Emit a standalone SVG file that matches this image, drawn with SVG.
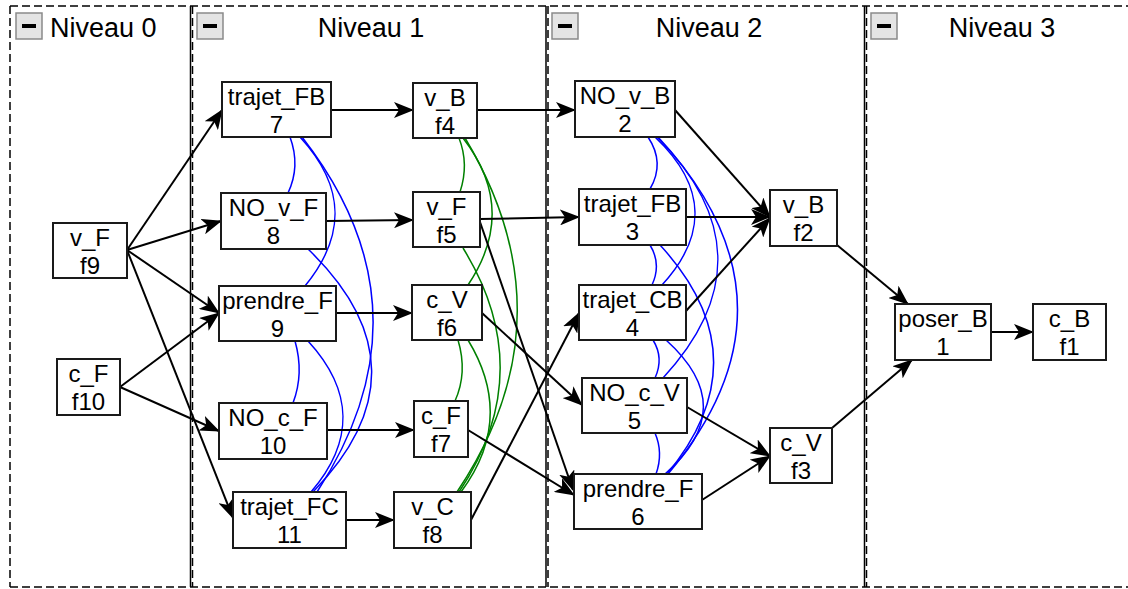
<svg xmlns="http://www.w3.org/2000/svg" width="1128" height="589" viewBox="0 0 1128 589">
<defs>
<marker id="arr" markerUnits="userSpaceOnUse" markerWidth="20" markerHeight="16" viewBox="0 0 20 16" refX="19" refY="8" orient="auto">
<path d="M0,0 L20,8 L0,16 L5,8 z" fill="#000"/>
</marker>
</defs>
<style>
.lane{stroke:#000;stroke-width:1.5;fill:none;stroke-dasharray:8 4}
.sep{stroke:#000;stroke-width:1.5;fill:none}
.btn rect.b{fill:#e4e4e4;stroke:#8a8a8a;stroke-width:1.5}
.btn rect.m{fill:#000}
.title{font-family:"Liberation Sans",Arial,sans-serif;font-size:27px;fill:#000}
.node rect{fill:#fff;stroke:#1a1a1a;stroke-width:2}
.node text{font-family:"Liberation Sans",Arial,sans-serif;font-size:24px;text-anchor:middle;fill:#000}
.edge{stroke:#000;stroke-width:2;fill:none;marker-end:url(#arr)}
.mb{stroke:#0000ff;stroke-width:1.5;fill:none}
.mg{stroke:#008000;stroke-width:1.5;fill:none}
</style>
<rect width="1128" height="589" fill="#fff"/>
<g id="lanes">
<line class="lane" x1="10" y1="6" x2="1128" y2="6"/>
<line class="lane" x1="10" y1="587" x2="1128" y2="587"/>
<line class="lane" x1="10" y1="6" x2="10" y2="587"/>
<line class="sep" x1="190.5" y1="6" x2="190.5" y2="587"/>
<line class="lane" x1="192.5" y1="6" x2="192.5" y2="587"/>
<line class="sep" x1="546" y1="6" x2="546" y2="587"/>
<line class="lane" x1="548" y1="6" x2="548" y2="587"/>
<line class="sep" x1="864.5" y1="6" x2="864.5" y2="587"/>
<line class="lane" x1="866.5" y1="6" x2="866.5" y2="587"/>
</g>
<g id="headers">
<g class="btn"><rect class="b" x="16" y="13" width="26" height="26"/><rect class="m" x="22" y="24" width="14" height="4"/></g>
<g class="btn"><rect class="b" x="197" y="13" width="26" height="26"/><rect class="m" x="203" y="24" width="14" height="4"/></g>
<g class="btn"><rect class="b" x="552" y="13" width="26" height="26"/><rect class="m" x="558" y="24" width="14" height="4"/></g>
<g class="btn"><rect class="b" x="871" y="13" width="26" height="26"/><rect class="m" x="877" y="24" width="14" height="4"/></g>
<text class="title" x="50" y="37">Niveau 0</text>
<text class="title" x="371" y="37" text-anchor="middle">Niveau 1</text>
<text class="title" x="709" y="37" text-anchor="middle">Niveau 2</text>
<text class="title" x="1002" y="37" text-anchor="middle">Niveau 3</text>
</g>
<g id="connectors">
<path class="mb" d="M290,137 C297,156 297,174 288,193"/>
<path class="mb" d="M300,137 C346,187 346,236 305,286"/>
<path class="mb" d="M302,137 C394,255 394,374 317,492"/>
<path class="mb" d="M308,249 C392,330 392,411 313,492"/>
<path class="mb" d="M295,341 C301,362 301,382 293,403"/>
<path class="mb" d="M308,341 C354,391 354,442 311,492"/>
<path class="mg" d="M459,138 C466,156 466,174 460,192"/>
<path class="mg" d="M463,138 C501,187 501,236 468,285"/>
<path class="mg" d="M465,138 C536,256 536,374 457,492"/>
<path class="mg" d="M463,248 C513,329 513,411 459,492"/>
<path class="mg" d="M458,340 C464,360 464,381 455,401"/>
<path class="mg" d="M468,340 C499,391 499,441 461,492"/>
<path class="mb" d="M648,137 C660,155 660,172 650,189"/>
<path class="mb" d="M655,137 C707,186 707,236 662,285"/>
<path class="mb" d="M657,137 C737,217 737,298 663,378"/>
<path class="mb" d="M658,137 C762,249 762,362 668,474"/>
<path class="mb" d="M650,245 C658,258 658,272 652,285"/>
<path class="mb" d="M660,245 C730,321 730,398 667,474"/>
<path class="mb" d="M653,340 C661,353 661,365 655,378"/>
<path class="mb" d="M666,340 C716,385 716,429 665,474"/>
<path class="mb" d="M655,433 C661,447 661,460 656,474"/>
<path class="edge" d="M127,250 L222,110"/>
<path class="edge" d="M127,250 L221,221"/>
<path class="edge" d="M127,250 L219,313"/>
<path class="edge" d="M127,250 L233,518"/>
<path class="edge" d="M120,387 L219,313"/>
<path class="edge" d="M120,387 L219,431"/>
<path class="edge" d="M331,110 L413,110"/>
<path class="edge" d="M326,221 L413,220"/>
<path class="edge" d="M336,313 L412,313"/>
<path class="edge" d="M327,430 L414,430"/>
<path class="edge" d="M346,520 L394,520"/>
<path class="edge" d="M477,110 L575,110"/>
<path class="edge" d="M480,219 L579,217"/>
<path class="edge" d="M480,222 L573,490"/>
<path class="edge" d="M468,430 L574,495"/>
<path class="edge" d="M482,313 L582,405"/>
<path class="edge" d="M471,520 L579,313"/>
<path class="edge" d="M675,110 L770,217"/>
<path class="edge" d="M686,217 L770,217"/>
<path class="edge" d="M686,311 L770,218"/>
<path class="edge" d="M687,407 L770,456"/>
<path class="edge" d="M702,500 L770,456"/>
<path class="edge" d="M837,245 L908,304"/>
<path class="edge" d="M832,428 L912,360"/>
<path class="edge" d="M991,332 L1033,332"/>
</g>
<g id="n_f9" class="node"><rect x="53" y="223" width="74" height="55"/><text x="90" y="246">v_F</text><text x="90" y="274">f9</text></g>
<g id="n_f10" class="node"><rect x="57" y="359" width="63" height="56"/><text x="88.5" y="382">c_F</text><text x="88.5" y="410">f10</text></g>
<g id="n_7" class="node"><rect x="222" y="82" width="109" height="55"/><text x="276.5" y="105">trajet_FB</text><text x="276.5" y="133">7</text></g>
<g id="n_8" class="node"><rect x="221" y="193" width="105" height="56"/><text x="273.5" y="216">NO_v_F</text><text x="273.5" y="244">8</text></g>
<g id="n_9" class="node"><rect x="219" y="286" width="117" height="55"/><text x="277.5" y="309">prendre_F</text><text x="277.5" y="337">9</text></g>
<g id="n_10" class="node"><rect x="219" y="403" width="108" height="56"/><text x="273" y="426">NO_c_F</text><text x="273" y="454">10</text></g>
<g id="n_11" class="node"><rect x="233" y="492" width="113" height="56"/><text x="289.5" y="515">trajet_FC</text><text x="289.5" y="543">11</text></g>
<g id="n_f4" class="node"><rect x="413" y="83" width="64" height="55"/><text x="445" y="106">v_B</text><text x="445" y="134">f4</text></g>
<g id="n_f5" class="node"><rect x="413" y="192" width="67" height="55"/><text x="446.5" y="215">v_F</text><text x="446.5" y="243">f5</text></g>
<g id="n_f6" class="node"><rect x="412" y="285" width="70" height="55"/><text x="447" y="308">c_V</text><text x="447" y="336">f6</text></g>
<g id="n_f7" class="node"><rect x="414" y="401" width="54" height="56"/><text x="441" y="424">c_F</text><text x="441" y="452">f7</text></g>
<g id="n_f8" class="node"><rect x="394" y="492" width="77" height="56"/><text x="432.5" y="515">v_C</text><text x="432.5" y="543">f8</text></g>
<g id="n_2" class="node"><rect x="575" y="81" width="100" height="56"/><text x="625" y="104">NO_v_B</text><text x="625" y="132">2</text></g>
<g id="n_3" class="node"><rect x="579" y="189" width="107" height="56"/><text x="632.5" y="212">trajet_FB</text><text x="632.5" y="240">3</text></g>
<g id="n_4" class="node"><rect x="579" y="285" width="107" height="55"/><text x="632.5" y="308">trajet_CB</text><text x="632.5" y="336">4</text></g>
<g id="n_5" class="node"><rect x="582" y="378" width="105" height="55"/><text x="634.5" y="401">NO_c_V</text><text x="634.5" y="429">5</text></g>
<g id="n_6" class="node"><rect x="574" y="474" width="128" height="55"/><text x="638" y="497">prendre_F</text><text x="638" y="525">6</text></g>
<g id="n_f2" class="node"><rect x="770" y="190" width="67" height="56"/><text x="803.5" y="213">v_B</text><text x="803.5" y="241">f2</text></g>
<g id="n_f3" class="node"><rect x="770" y="428" width="62" height="55"/><text x="801" y="451">c_V</text><text x="801" y="479">f3</text></g>
<g id="n_1" class="node"><rect x="895" y="304" width="96" height="56"/><text x="943" y="327">poser_B</text><text x="943" y="355">1</text></g>
<g id="n_f1" class="node"><rect x="1033" y="304" width="73" height="56"/><text x="1069.5" y="327">c_B</text><text x="1069.5" y="355">f1</text></g>
</svg>
